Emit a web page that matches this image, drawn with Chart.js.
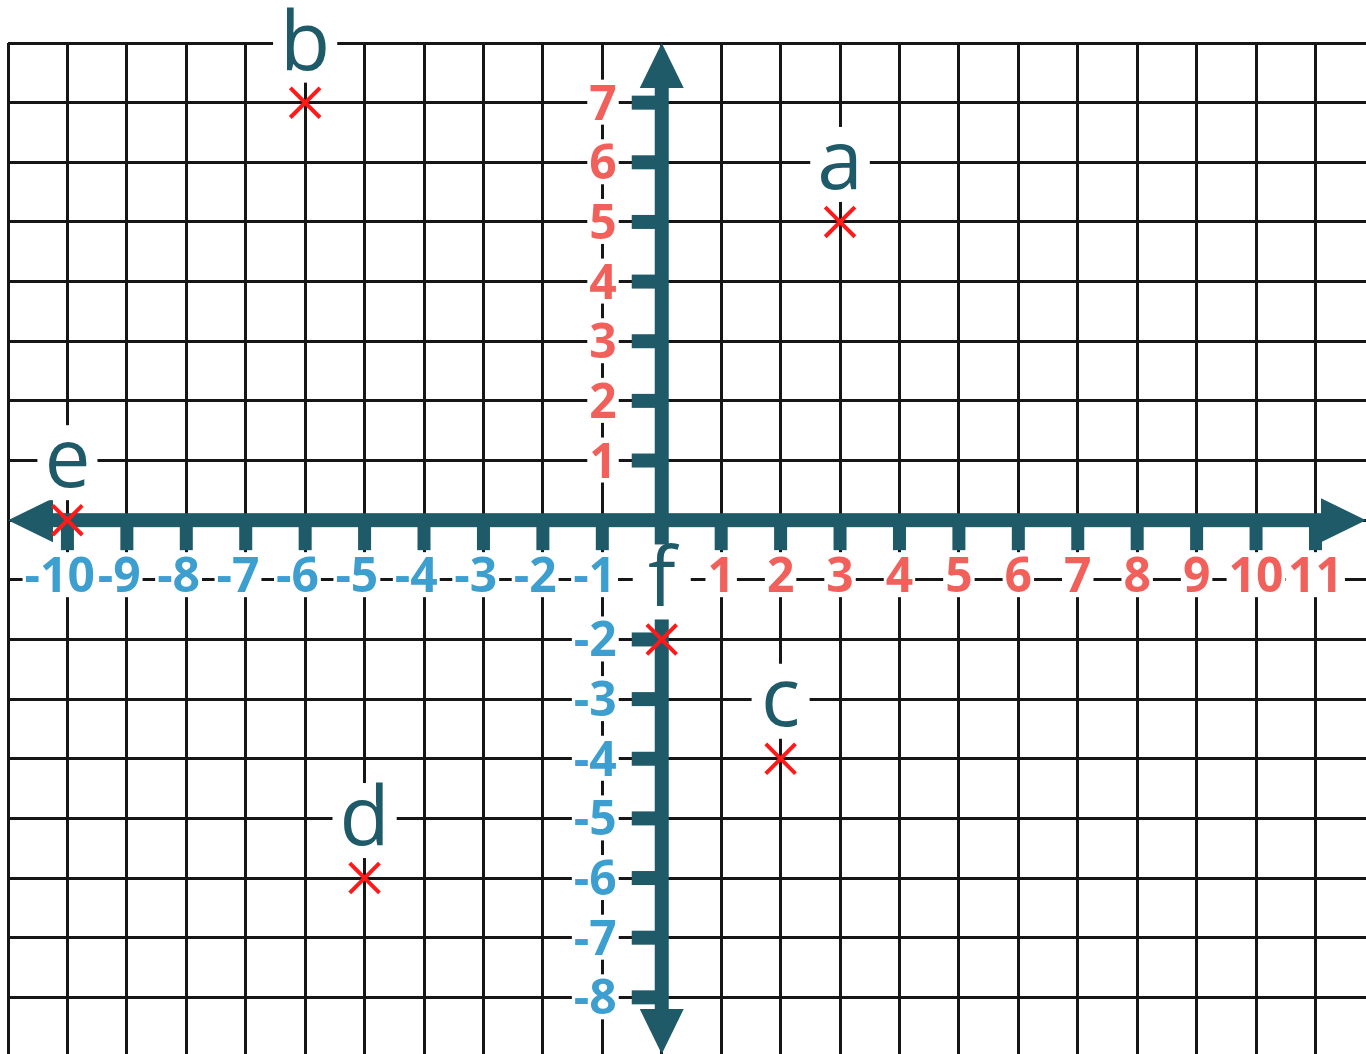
<!DOCTYPE html>
<html>
<head>
<meta charset="utf-8">
<title>Repère</title>
<script src="https://cdn.jsdelivr.net/npm/chart.js@4.4.1/dist/chart.umd.min.js"></script>
<style>
  html, body { margin: 0; padding: 0; background: #fff; }
  canvas { display: block; }
</style>
</head>
<body>
<canvas id="repere" width="1366" height="1054"></canvas>
<script>
// --- DONNÉES ---
const pointNames = ["a", "b", "c", "d", "e", "f"];
const pointX = [3, -6, 2, -5, -10, 0];
const pointY = [5, 7, -4, -6, 0, -2];

const xTicks = [-10, -9, -8, -7, -6, -5, -4, -3, -2, -1, 1, 2, 3, 4, 5, 6, 7, 8, 9, 10, 11];
const yTicks = [7, 6, 5, 4, 3, 2, 1, -2, -3, -4, -5, -6, -7, -8];

const xRange = [-11, 11.85];
const yRange = [-8.95, 8];

const TEAL = "#1f5a68";
const RED = "#f2605b";
const BLUE = "#3d9fcf";

function triangle(ctx, x1, y1, x2, y2, x3, y3) {
    ctx.beginPath();
    ctx.moveTo(x1, y1);
    ctx.lineTo(x2, y2);
    ctx.lineTo(x3, y3);
    ctx.closePath();
    ctx.fill();
}

// --- AXES, GRADUATIONS, ÉTIQUETTES ---
const axesPlugin = {
    id: "axes",
    beforeDatasetsDraw(chart) {
        const ctx = chart.ctx;
        const area = chart.chartArea;
        const xs = chart.scales.x, ys = chart.scales.y;
        const ox = xs.getPixelForValue(0);
        const oy = ys.getPixelForValue(0);
        const head = 45, half = 22, thick = 14;

        ctx.save();
        ctx.fillStyle = TEAL;
        ctx.fillRect(area.left + head - 2, oy - thick / 2, area.right - area.left - 2 * head + 4, thick);
        ctx.fillRect(ox - thick / 2, area.top + head - 2, thick, area.bottom - area.top - 2 * head + 4);

        triangle(ctx, area.left, oy, area.left + head, oy - half, area.left + head, oy + half);
        triangle(ctx, area.right, oy, area.right - head, oy - half, area.right - head, oy + half);
        triangle(ctx, ox, area.top, ox - half, area.top + head, ox + half, area.top + head);
        triangle(ctx, ox, area.bottom, ox - half, area.bottom - head, ox + half, area.bottom - head);

        xTicks.forEach(v => {
            const x = xs.getPixelForValue(v);
            ctx.fillRect(x - 6.5, oy, 13, 30);
        });
        yTicks.forEach(v => {
            const y = ys.getPixelForValue(v);
            ctx.fillRect(ox - 30, y - 7, 30, 14);
        });

        // tick labels : fonds blancs puis textes
        ctx.font = "bold 48px 'Open Sans'";
        ctx.textBaseline = "alphabetic";
        ctx.textAlign = "right";
        const labels = [];
        xTicks.forEach(v => {
            const x = xs.getPixelForValue(v);
            const txt = String(v);
            const right = x + ctx.measureText(String(Math.abs(v))).width / 2;
            labels.push({ txt, right, base: oy + 72, w: ctx.measureText(txt).width, neg: v < 0 });
        });
        yTicks.forEach(v => {
            const y = ys.getPixelForValue(v);
            const txt = String(v);
            labels.push({ txt, right: ox - 45, base: y + 17, w: ctx.measureText(txt).width, neg: v < 0 });
        });
        ctx.fillStyle = "#fff";
        labels.forEach(l => ctx.fillRect(l.right - l.w - 2, l.base - 40, l.w + 4, 45));
        labels.forEach(l => {
            ctx.fillStyle = l.neg ? BLUE : RED;
            ctx.fillText(l.txt, l.right, l.base);
        });

        // noms des points
        ctx.font = "82px 'Open Sans'";
        ctx.textAlign = "center";
        pointNames.forEach((name, i) => {
            const x = xs.getPixelForValue(pointX[i]);
            const base = ys.getPixelForValue(pointY[i]) - 33;
            const w = Math.max(ctx.measureText(name).width + 14, 58);
            ctx.fillStyle = "#fff";
            ctx.fillRect(x - w / 2, base - 62, w, 75);
            ctx.fillStyle = TEAL;
            ctx.fillText(name, x, base);
        });
        ctx.restore();
    }
};

// --- GRAPHIQUE ---
const ctx = document.getElementById("repere").getContext("2d");
new Chart(ctx, {
    type: "scatter",
    data: {
        datasets: [{
            label: "Points",
            data: pointX.map((x, i) => ({ x: x, y: pointY[i] })),
            pointStyle: "crossRot",
            pointRadius: 21,
            borderColor: "#ff1a1a",
            backgroundColor: "#ff1a1a",
            borderWidth: 4
        }]
    },
    options: {
        responsive: false,
        animation: false,
        layout: { autoPadding: false, padding: { left: 8, top: 43, right: 0, bottom: 0 } },
        plugins: {
            legend: { display: false },
            tooltip: { enabled: false }
        },
        scales: {
            x: {
                type: "linear",
                min: xRange[0],
                max: xRange[1],
                ticks: { stepSize: 1, display: false, includeBounds: false },
                grid: { color: "#161616", lineWidth: 3, drawTicks: false },
                border: { display: false }
            },
            y: {
                type: "linear",
                min: yRange[0],
                max: yRange[1],
                ticks: { stepSize: 1, display: false, includeBounds: false },
                grid: { color: "#161616", lineWidth: 3, drawTicks: false },
                border: { display: false }
            }
        }
    },
    plugins: [axesPlugin]
});
</script>
</body>
</html>
